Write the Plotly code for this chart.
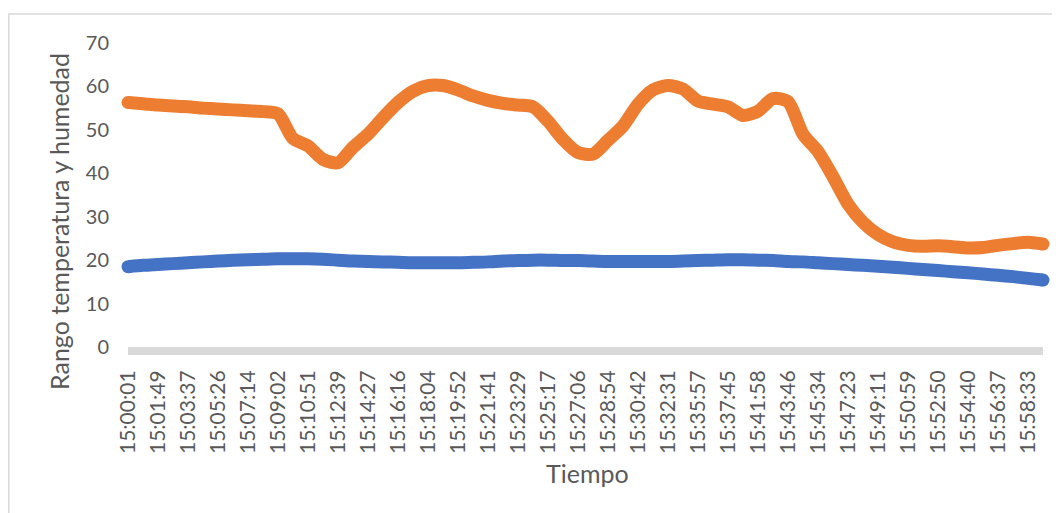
import plotly.graph_objects as go

# Tick labels shown on the category axis (every 2nd sample)
tick_labels = ["15:00:01", "15:01:49", "15:03:37", "15:05:26", "15:07:14", "15:09:02",
               "15:10:51", "15:12:39", "15:14:27", "15:16:16", "15:18:04", "15:19:52",
               "15:21:41", "15:23:29", "15:25:17", "15:27:06", "15:28:54", "15:30:42",
               "15:32:31", "15:35:57", "15:37:45", "15:41:58", "15:43:46", "15:45:34",
               "15:47:23", "15:49:11", "15:50:59", "15:52:50", "15:54:40", "15:56:37",
               "15:58:33"]

# Series values (one sample every half label step)
temperatura = [18.5, 18.8, 19.0, 19.2, 19.4, 19.6, 19.8, 19.95, 20.1, 20.2,
               20.3, 20.3, 20.3, 20.2, 20.0, 19.8, 19.7, 19.6, 19.5, 19.4,
               19.4, 19.4, 19.4, 19.5, 19.6, 19.8, 19.9, 20.0, 20.0, 19.9,
               19.9, 19.8, 19.7, 19.7, 19.7, 19.7, 19.7, 19.8, 19.9, 20.0,
               20.1, 20.1, 20.0, 19.9, 19.7, 19.6, 19.4, 19.2, 19.0, 18.8,
               18.6, 18.35, 18.1, 17.85, 17.6, 17.35, 17.1, 16.8, 16.5, 16.2,
               15.8, 15.4]

humedad = [56.3, 56.0, 55.7, 55.5, 55.3, 55.0, 54.8, 54.6, 54.4, 54.2,
           53.7, 48.0, 46.3, 43.2, 42.4, 46.0, 49.0, 52.8, 56.3, 58.9,
           60.2, 60.2, 59.2, 57.8, 56.8, 56.1, 55.7, 55.3, 52.0, 47.8,
           44.8, 44.4, 47.6, 50.9, 55.9, 59.2, 60.2, 59.4, 56.6, 55.9,
           55.3, 53.3, 54.3, 57.2, 56.5, 49.0, 45.0, 39.2, 32.9, 28.7,
           25.9, 24.2, 23.4, 23.2, 23.3, 23.1, 22.8, 22.9, 23.4, 23.8,
           24.1, 23.7]

n = len(humedad)
idx = list(range(n))
tickvals = list(range(0, 2 * len(tick_labels), 2))
LW = 13
end_sizes = [LW] + [0] * (n - 2) + [LW]

TEXT = "#595959"
FONT = "Lato"

fig = go.Figure()
fig.add_trace(go.Scatter(
    x=idx, y=temperatura, mode="lines+markers", name="Temperatura",
    line=dict(color="#4472C4", width=LW, shape="spline", smoothing=0.7),
    marker=dict(size=end_sizes, color="#4472C4", opacity=1, line=dict(width=0)),
    cliponaxis=False, showlegend=False))
fig.add_trace(go.Scatter(
    x=idx, y=humedad, mode="lines+markers", name="Humedad",
    line=dict(color="#ED7D31", width=LW, shape="spline", smoothing=0.7),
    marker=dict(size=end_sizes, color="#ED7D31", opacity=1, line=dict(width=0)),
    cliponaxis=False, showlegend=False))

# page has an 8px body margin; work in page pixel coordinates
OFF = 8
W, H = 1060 - OFF, 513 - OFF
PL, PR, PT, PB = 128, 1043, 43, 347  # plot area in page pixels
L, R, T, B = PL - OFF, W - (PR - OFF), PT - OFF, H - (PB - OFF)
pw, ph = W - L - R, H - T - B


def px(x):
    return (x - PL) / pw


def py(y):
    return (PB - y) / ph


fig.update_layout(
    width=W, height=H,
    margin=dict(l=L, r=R, t=T, b=B, pad=0),
    paper_bgcolor="white", plot_bgcolor="white",
    font=dict(family=FONT, color=TEXT),
    xaxis=dict(range=[0, n - 1], tickvals=tickvals, ticktext=tick_labels,
               tickangle=-90, showgrid=False, zeroline=False,
               showline=True, linecolor="#d9d9d9", linewidth=8,
               ticks="", ticklabelstandoff=7,
               tickfont=dict(family=FONT, size=21, color=TEXT)),
    yaxis=dict(range=[0, 70], tickvals=[0, 10, 20, 30, 40, 50, 60, 70],
               showgrid=False, zeroline=False, showline=False, ticks="",
               ticklabelstandoff=18,
               tickfont=dict(family=FONT, size=20, color=TEXT)),
    annotations=[
        dict(text="Rango temperatura y humedad", x=px(59), y=py(222),
             xref="paper", yref="paper", showarrow=False, textangle=-90,
             xanchor="center", yanchor="middle",
             font=dict(family=FONT, size=25, color=TEXT)),
        dict(text="Tiempo", x=px(587), y=py(473), xref="paper", yref="paper",
             showarrow=False, xanchor="center", yanchor="middle",
             font=dict(family=FONT, size=25, color=TEXT)),
    ],
    shapes=[
        dict(type="line", xref="paper", yref="paper", x0=px(8), x1=px(1070),
             y0=py(14), y1=py(14), line=dict(color="#d9d9d9", width=1.5)),
        dict(type="line", xref="paper", yref="paper", x0=px(8.8), x1=px(8.8),
             y0=py(14), y1=py(520), line=dict(color="#d9d9d9", width=1.5)),
    ],
)

fig.write_html("out.html")
